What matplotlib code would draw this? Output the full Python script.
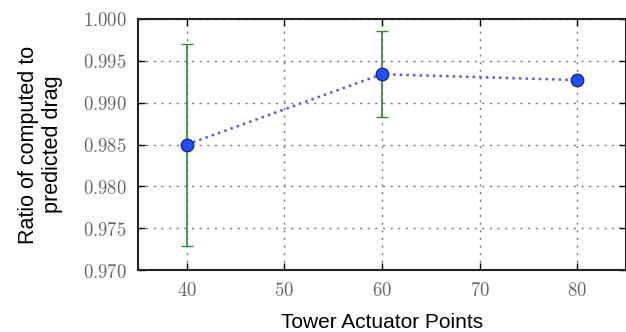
import matplotlib
matplotlib.use("Agg")
import matplotlib.pyplot as plt
from matplotlib.ticker import FuncFormatter

x_points = [40, 60, 80]
ratio = [0.985, 0.9934, 0.9927]
err_low = [0.97287, 0.98829, None]
err_high = [0.9970, 0.99857, None]

x_ticks = [40, 50, 60, 70, 80]
y_ticks = [0.970, 0.975, 0.980, 0.985, 0.990, 0.995, 1.000]

plt.rcParams['mathtext.fontset'] = 'cm'

fig = plt.figure(figsize=(6.26, 3.32), dpi=100)
ax = fig.add_axes([0.2204, 0.1867, 0.7796, 0.7561])

# error bars (only where available)
ex, ey, elo, ehi = [], [], [], []
for xi, yi, lo, hi in zip(x_points, ratio, err_low, err_high):
    if lo is not None:
        ex.append(xi); ey.append(yi); elo.append(yi - lo); ehi.append(hi - yi)
ax.errorbar(ex, ey, yerr=[elo, ehi], fmt='none', ecolor='#2e8b2e', elinewidth=1.2,
            capsize=4, capthick=1.0, zorder=3)

ax.plot(x_points, ratio, linestyle=':', color='#5555ff', linewidth=1.8, zorder=4)
ax.plot(x_points, ratio, linestyle='none', marker='o', markersize=9,
        markerfacecolor='#1f4fff', markeredgecolor='#1a2a80', markeredgewidth=1.0, zorder=5)

ax.set_xlim(35, 85)
ax.set_ylim(0.970, 1.000)
ax.set_xticks(x_ticks)
ax.set_yticks(y_ticks)
ax.xaxis.set_major_formatter(FuncFormatter(lambda v, p: r'$%d$' % v))
ax.yaxis.set_major_formatter(FuncFormatter(lambda v, p: r'$%.3f$' % v))
ax.tick_params(direction='in', top=True, right=True, length=5, width=1,
               labelsize=13.5, labelcolor='#666666', pad=8)
ax.grid(True, linestyle=(0, (1.5, 4)), color='#777777', linewidth=1.0)

for s in ax.spines.values():
    s.set_linewidth(1.5)
    s.set_color('#222222')

ax.set_xlabel('Tower Actuator Points', fontsize=15, family='Liberation Sans', labelpad=9)
ax.set_ylabel('Ratio of computed to\npredicted drag', fontsize=15.5, family='Liberation Sans',
              labelpad=14)

fig.savefig('out.png', dpi=100)
